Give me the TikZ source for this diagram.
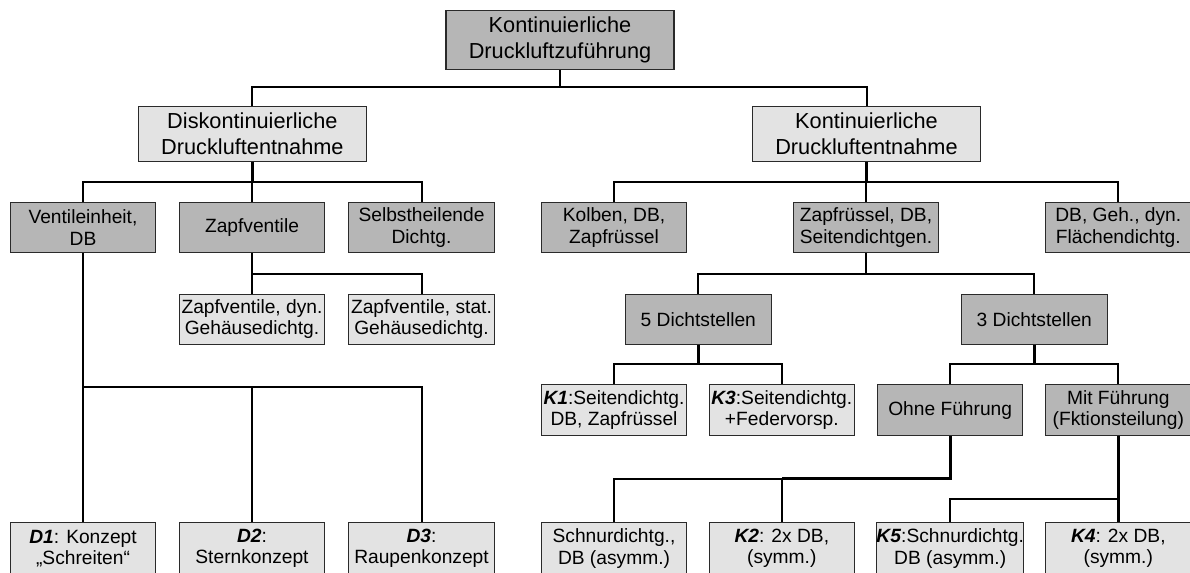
\documentclass[tikz,border=0pt]{standalone}
\usepackage{fontspec}
\setmainfont{Liberation Sans}
\definecolor{dk}{HTML}{B6B6B6}
\definecolor{lt}{HTML}{E3E3E3}
\definecolor{bd}{HTML}{2A2A2A}
\tikzset{
 bx/.style={draw=bd, line width=0.8pt, inner sep=0pt, align=center, anchor=center, font=\fontsize{14.4}{16}\selectfont},
 big/.style={font=\fontsize{16.3}{19.8}\selectfont},
 dark/.style={fill=dk},
 light/.style={fill=lt},
 sz/.style 2 args={minimum width=#1*0.75pt, minimum height=#2*0.75pt},
 stem/.style={line width=2pt, black},
 conn/.style={line width=1.5pt, black}
}
\begin{document}
\begin{tikzpicture}[x=0.75pt, y=-0.75pt]
\useasboundingbox (0,0) rectangle (1190,572);
\clip (0,0) rectangle (1190,572);
% row 1-2
\node[bx,big,dark,sz={228}{59.3}] (top) at (560,39.7) {Kontinuierliche\\Druckluftzuführung};
\node[bx,big,light,sz={227.7}{55.7}] (disk) at (252.4,133.9) {Diskontinuierliche\\Druckluftentnahme};
\node[bx,big,light,sz={227.7}{55.7}] (kont) at (866.5,133.9) {Kontinuierliche\\Druckluftentnahme};
% row 3
\node[bx,dark,sz={145.5}{50.4}] (vent) at (83,227.5) {Ventileinheit,\\DB};
\node[bx,dark,sz={145.5}{50.4}] (zapfv) at (252,227.5) {Zapfventile};
\node[bx,dark,sz={145.5}{50.4}] (selbst) at (421.5,227.5) {Selbstheilende\\Dichtg.};
\node[bx,dark,sz={145.5}{50.4}] (kolben) at (614,227.5) {Kolben, DB,\\Zapfrüssel};
\node[bx,dark,sz={145.5}{50.4}] (zapfr) at (866,227.5) {Zapfrüssel, DB,\\Seitendichtgen.};
\node[bx,dark,sz={145.5}{50.4}] (dbgeh) at (1118.3,227.5) {DB, Geh., dyn.\\Flächendichtg.};
% row 4
\node[bx,light,sz={145.5}{50}] (zvdyn) at (252,319.3) {Zapfventile, dyn.\\Gehäusedichtg.};
\node[bx,light,sz={145.5}{50}] (zvstat) at (421.5,319.3) {Zapfventile, stat.\\Gehäusedichtg.};
\node[bx,dark,sz={146}{50}] (d5) at (698.3,319.3) {5 Dichtstellen};
\node[bx,dark,sz={146}{50}] (d3) at (1034.3,319.3) {3 Dichtstellen};
% row 5
\node[bx,light,sz={145}{50.7}] (k1) at (614,410.3) {\textbf{\textit{K1}}:Seitendichtg.\\DB, Zapfrüssel};
\node[bx,light,sz={145}{50.7}] (k3) at (781.8,410.3) {\textbf{\textit{K3}}:Seitendichtg.\\+Federvorsp.};
\node[bx,dark,sz={145.5}{50.7}] (ohne) at (950.2,410.3) {Ohne Führung};
\node[bx,dark,sz={145.5}{50.7}] (mit) at (1118.3,410.3) {Mit Führung\\(Fktionsteilung)};
% row 6
\node[bx,light,sz={145.5}{52}] (d1) at (83,548.5) {\textbf{\textit{D1}}: Konzept\\„Schreiten“};
\node[bx,light,sz={145.5}{52}] (d2) at (252,548.5) {\textbf{\textit{D2}}:\\Sternkonzept};
\node[bx,light,sz={145.5}{52}] (d3c) at (421.5,548.5) {\textbf{\textit{D3}}:\\Raupenkonzept};
\node[bx,light,sz={145}{52}] (schnur) at (614,548.5) {Schnurdichtg.,\\DB (asymm.)};
\node[bx,light,sz={145}{52}] (k2) at (781.8,548.5) {\textbf{\textit{K2}}: 2x DB,\\(symm.)};
\node[bx,light,sz={145.5}{52}] (k5) at (950.2,548.5) {\textbf{\textit{K5}}:Schnurdichtg.\\DB (asymm.)};
\node[bx,light,sz={145.5}{52}] (k4) at (1118.3,548.5) {\textbf{\textit{K4}}: 2x DB,\\(symm.)};
% bar levels
\coordinate (y1) at (0,87.3);
\coordinate (y2) at (0,181.7);
\coordinate (y3) at (0,273.6);
\coordinate (y4) at (0,364.3);
\coordinate (yv) at (0,386.7);
\coordinate (yo) at (0,478.5);
\coordinate (ym) at (0,499);
% connectors
\draw[stem] (top.south) -- (top.south |- y1);
\draw[conn] (disk.north) -- (disk.north |- y1) -- (kont.north |- y1) -- (kont.north);
\draw[stem] (disk.south) -- (disk.south |- y2);
\draw[conn] (vent.north) -- (vent.north |- y2) -- (selbst.north |- y2) -- (selbst.north);
\draw[conn] (zapfv.north) -- (zapfv.north |- y2);
\draw[stem] (kont.south) -- (kont.south |- y2);
\draw[conn] (kolben.north) -- (kolben.north |- y2) -- (dbgeh.north |- y2) -- (dbgeh.north);
\draw[conn] (zapfr.north) -- (zapfr.north |- y2);
\draw[stem] (zapfv.south) -- (zapfv.south |- y3);
\draw[conn] (zvdyn.north) -- (zvdyn.north |- y3) -- (zvstat.north |- y3) -- (zvstat.north);
\draw[stem] (zapfr.south) -- (zapfr.south |- y3);
\draw[conn] (d5.north) -- (d5.north |- y3) -- (d3.north |- y3) -- (d3.north);
\draw[stem] (d5.south) -- (d5.south |- y4);
\draw[conn] (k1.north) -- (k1.north |- y4) -- (k3.north |- y4) -- (k3.north);
\draw[stem] (d3.south) -- (d3.south |- y4);
\draw[conn] (ohne.north) -- (ohne.north |- y4) -- (mit.north |- y4) -- (mit.north);
\draw[stem] (vent.south) -- (d1.north);
\draw[conn] (d1.north |- yv) -- (d3c.north |- yv) -- (d3c.north);
\draw[conn] (d2.north) -- (d2.north |- yv);
\draw[stem] (ohne.south) -- (ohne.south |- yo) -- (k2.north |- yo);
\draw[conn] (k2.north) -- (k2.north |- yo) -- (schnur.north |- yo) -- (schnur.north);
\draw[stem] (mit.south) -- (k4.north);
\draw[conn] (mit.south |- ym) -- (k5.north |- ym) -- (k5.north);
\end{tikzpicture}
\end{document}
